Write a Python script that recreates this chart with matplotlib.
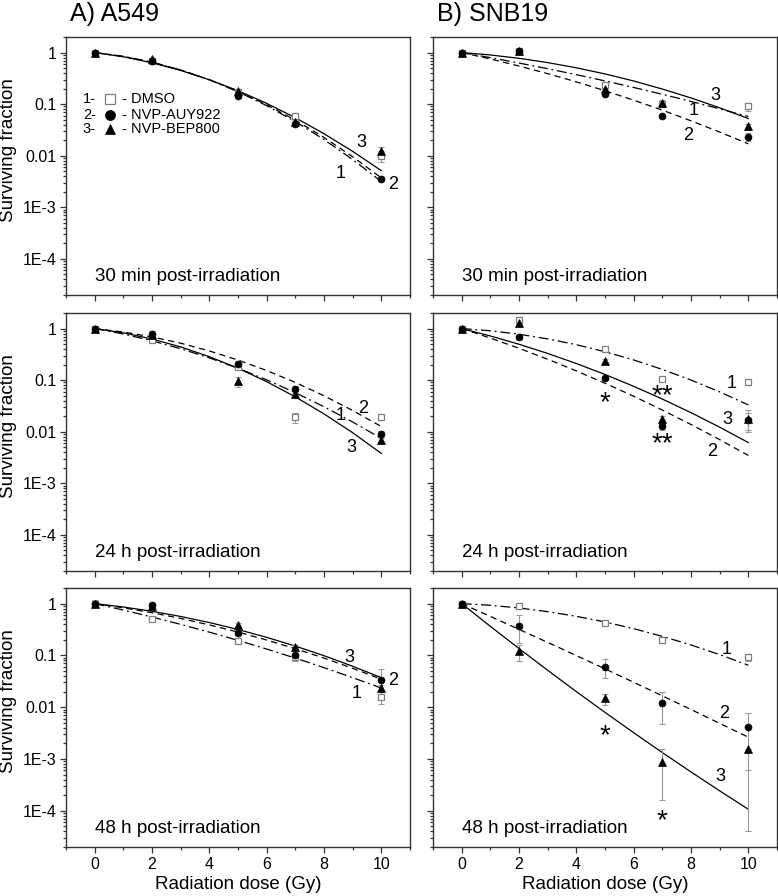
import matplotlib
matplotlib.use('Agg')
import matplotlib.pyplot as plt
from matplotlib.ticker import FixedLocator, FixedFormatter, LogLocator, NullFormatter, MultipleLocator

plt.rcParams['font.family'] = ['Liberation Sans', 'DejaVu Sans']

# ---------------- data ----------------
DOSES = [0, 2, 5, 7, 10]
FIT_DOSES = [0, 1, 2, 3, 4, 5, 6, 7, 8, 9, 10]
TREATMENTS = ['DMSO', 'NVP-AUY922', 'NVP-BEP800']
CURVE_IDS = ['1', '2', '3']

# A549, 30 min
A30_DMSO = [1.0, 0.70, 0.17, 0.058, 0.010]
A30_DMSO_ERR = [0.06, 0.05, 0.015, 0.008, 0.0025]
A30_AUY = [1.0, 0.70, 0.145, 0.042, 0.0036]
A30_AUY_ERR = [0.05, 0.04, 0.01, 0.004, 0.0004]
A30_BEP = [1.0, 0.75, 0.18, 0.045, 0.0125]
A30_BEP_ERR = [0.05, 0.05, 0.015, 0.004, 0.002]
A30_FIT_DMSO = [1, 0.844, 0.651, 0.459, 0.295, 0.174, 0.0934, 0.0459, 0.0206, 0.00844, 0.00316]
A30_FIT_AUY = [1, 0.840, 0.648, 0.459, 0.298, 0.178, 0.0974, 0.0489, 0.0226, 0.00956, 0.00372]
A30_FIT_BEP = [1, 0.826, 0.633, 0.450, 0.297, 0.182, 0.1035, 0.0546, 0.0267, 0.01216, 0.00513]

# SNB19, 30 min
B30_DMSO = [1.0, 1.05, 0.23, 0.10, 0.09]
B30_DMSO_ERR = [0.08, 0.10, 0.03, 0.01, 0.015]
B30_AUY = [1.0, 1.08, 0.157, 0.06, 0.023]
B30_AUY_ERR = [0.05, 0.06, 0.01, 0.005, 0.004]
B30_BEP = [1.0, 1.05, 0.20, 0.105, 0.037]
B30_BEP_ERR = [0.05, 0.06, 0.02, 0.015, 0.005]
B30_FIT_DMSO = [1, 0.796, 0.626, 0.486, 0.3725, 0.282, 0.2104, 0.1551, 0.1129, 0.0811, 0.0575]
B30_FIT_AUY = [1, 0.750, 0.548, 0.390, 0.270, 0.182, 0.1194, 0.0763, 0.0475, 0.0288, 0.0170]
B30_FIT_BEP = [1, 0.897, 0.773, 0.638, 0.506, 0.385, 0.281, 0.196, 0.132, 0.0849, 0.0525]

# A549, 24 h
A24_DMSO = [1.0, 0.61, 0.18, 0.019, 0.019]
A24_DMSO_ERR = [0.05, 0.04, 0.02, 0.004, 0.002]
A24_AUY = [1.0, 0.80, 0.21, 0.067, 0.0090]
A24_AUY_ERR = [0.05, 0.10, 0.02, 0.010, 0.0015]
A24_BEP = [1.0, 0.75, 0.095, 0.053, 0.0069]
A24_BEP_ERR = [0.05, 0.06, 0.02, 0.008, 0.001]
A24_FIT_DMSO = [1, 0.782, 0.579, 0.406, 0.270, 0.170, 0.1012, 0.0571, 0.0305, 0.01546, 0.00741]
A24_FIT_AUY = [1, 0.856, 0.688, 0.520, 0.368, 0.245, 0.1536, 0.0903, 0.0498, 0.0258, 0.01259]
A24_FIT_BEP = [1, 0.825, 0.627, 0.440, 0.285, 0.170, 0.0934, 0.0474, 0.0222, 0.00956, 0.0038]

# SNB19, 24 h
B24_DMSO = [1.0, 1.49, 0.41, 0.105, 0.091]
B24_DMSO_ERR = [0.10, 0.20, 0.03, 0.008, 0.012]
B24_AUY = [1.0, 0.70, 0.112, 0.0127, 0.017]
B24_AUY_ERR = [0.08, 0.06, 0.01, 0.002, 0.006]
B24_BEP = [1.0, 1.29, 0.24, 0.018, 0.018]
B24_BEP_ERR = [0.08, 0.10, 0.02, 0.002, 0.008]
B24_FIT_DMSO = [1, 0.905, 0.776, 0.630, 0.486, 0.355, 0.246, 0.1612, 0.1004, 0.0592, 0.0331]
B24_FIT_AUY = [1, 0.653, 0.414, 0.254, 0.1511, 0.0871, 0.0487, 0.0263, 0.01382, 0.00703, 0.00347]
B24_FIT_BEP = [1, 0.718, 0.496, 0.329, 0.210, 0.1288, 0.0759, 0.0430, 0.0234, 0.01226, 0.00617]

# A549, 48 h
A48_DMSO = [1.0, 0.51, 0.187, 0.093, 0.0156]
A48_DMSO_ERR = [0.15, 0.04, 0.015, 0.015, 0.004]
A48_AUY = [1.0, 0.93, 0.275, 0.104, 0.034]
A48_AUY_ERR = [0.08, 0.10, 0.03, 0.015, 0.02]
A48_BEP = [1.0, 0.88, 0.39, 0.145, 0.0236]
A48_BEP_ERR = [0.08, 0.08, 0.03, 0.015, 0.003]
A48_FIT_DMSO = [1, 0.750, 0.551, 0.397, 0.281, 0.195, 0.1327, 0.0886, 0.0580, 0.0372, 0.0234]
A48_FIT_AUY = [1, 0.829, 0.666, 0.517, 0.388, 0.282, 0.198, 0.1346, 0.0886, 0.0563, 0.0347]
A48_FIT_BEP = [1, 0.860, 0.710, 0.564, 0.431, 0.316, 0.223, 0.1512, 0.0986, 0.0617, 0.0372]

# SNB19, 48 h
B48_DMSO = [1.0, 0.89, 0.42, 0.195, 0.093]
B48_DMSO_ERR = [0.05, 0.10, 0.04, 0.02, 0.015]
B48_AUY = [1.0, 0.37, 0.059, 0.012, 0.0041]
B48_AUY_ERR_LO = [0.05, 0.20, 0.022, 0.0072, 0.0035]
B48_AUY_ERR_HI = [0.05, 0.22, 0.025, 0.0075, 0.0035]
B48_BEP = [1.0, 0.12, 0.0149, 0.00089, 0.00155]
B48_BEP_ERR_LO = [0.05, 0.043, 0.0041, 0.00073, 0.00151]
B48_BEP_ERR_HI = [0.05, 0.04, 0.0031, 0.00066, 0.0]
B48_FIT_DMSO = [1, 0.928, 0.823, 0.699, 0.568, 0.442, 0.328, 0.2336, 0.1590, 0.1036, 0.0646]
B48_FIT_AUY = [1, 0.566, 0.318, 0.1783, 0.0993, 0.0550, 0.0303, 0.01657, 0.00902, 0.00488, 0.00263]
B48_FIT_BEP = [1, 0.364, 0.1356, 0.0516, 0.0200, 0.00794, 0.00322, 0.00133, 0.000563, 0.000243, 0.000107]

PANEL_TEXT = ['30 min post-irradiation', '24 h post-irradiation', '48 h post-irradiation']

# curve number label positions (dose, value) for curves 1,2,3
A30_LBL = [(8.57, 0.0046), (10.41, 0.0028), (9.32, 0.0177)]
B30_LBL = [(8.08, 0.074), (7.89, 0.0245), (8.85, 0.145)]
A24_LBL = [(8.57, 0.0205), (9.38, 0.028), (8.94, 0.0049)]
B24_LBL = [(9.4, 0.087), (8.74, 0.0041), (9.27, 0.017)]
A48_LBL = [(9.13, 0.0187), (10.42, 0.033), (8.9, 0.090)]
B48_LBL = [(9.24, 0.129), (9.14, 0.0076), (9.02, 0.00046)]

# significance marks (dose, value, text)
B24_STARS = [(5, 0.048, '*'), (7, 0.067, '**'), (7, 0.0078, '**')]
B48_STARS = [(5, 0.0037, '*'), (7, 8.7e-5, '*')]

panels = [
    dict(data=[(A30_DMSO, A30_DMSO_ERR, A30_DMSO_ERR), (A30_AUY, A30_AUY_ERR, A30_AUY_ERR), (A30_BEP, A30_BEP_ERR, A30_BEP_ERR)],
         fits=[A30_FIT_DMSO, A30_FIT_AUY, A30_FIT_BEP], lbl=A30_LBL, stars=[]),
    dict(data=[(B30_DMSO, B30_DMSO_ERR, B30_DMSO_ERR), (B30_AUY, B30_AUY_ERR, B30_AUY_ERR), (B30_BEP, B30_BEP_ERR, B30_BEP_ERR)],
         fits=[B30_FIT_DMSO, B30_FIT_AUY, B30_FIT_BEP], lbl=B30_LBL, stars=[]),
    dict(data=[(A24_DMSO, A24_DMSO_ERR, A24_DMSO_ERR), (A24_AUY, A24_AUY_ERR, A24_AUY_ERR), (A24_BEP, A24_BEP_ERR, A24_BEP_ERR)],
         fits=[A24_FIT_DMSO, A24_FIT_AUY, A24_FIT_BEP], lbl=A24_LBL, stars=[]),
    dict(data=[(B24_DMSO, B24_DMSO_ERR, B24_DMSO_ERR), (B24_AUY, B24_AUY_ERR, B24_AUY_ERR), (B24_BEP, B24_BEP_ERR, B24_BEP_ERR)],
         fits=[B24_FIT_DMSO, B24_FIT_AUY, B24_FIT_BEP], lbl=B24_LBL, stars=B24_STARS),
    dict(data=[(A48_DMSO, A48_DMSO_ERR, A48_DMSO_ERR), (A48_AUY, A48_AUY_ERR, A48_AUY_ERR), (A48_BEP, A48_BEP_ERR, A48_BEP_ERR)],
         fits=[A48_FIT_DMSO, A48_FIT_AUY, A48_FIT_BEP], lbl=A48_LBL, stars=[]),
    dict(data=[(B48_DMSO, B48_DMSO_ERR, B48_DMSO_ERR), (B48_AUY, B48_AUY_ERR_LO, B48_AUY_ERR_HI), (B48_BEP, B48_BEP_ERR_LO, B48_BEP_ERR_HI)],
         fits=[B48_FIT_DMSO, B48_FIT_AUY, B48_FIT_BEP], lbl=B48_LBL, stars=B48_STARS),
]

# ---------------- styles ----------------
MARKERS = [dict(marker='s', ms=4.6, mfc='white', mec='#7f7f7f', mew=0.9),
           dict(marker='o', ms=5.0, mfc='black', mec='black', mew=0.5),
           dict(marker='^', ms=5.4, mfc='black', mec='black', mew=0.5)]
LINESTYLES = [(0, (8, 3, 1.5, 3)), (0, (5, 3.5)), '-']
SPINE = '#333333'

fig = plt.figure(figsize=(7.78, 8.96), dpi=100)
W, H = 778.0, 896.0
col_x = [66, 433]
col_w = 344
row_y = [(37, 295), (313, 571), (588, 847)]

axes = []
for i, p in enumerate(panels):
    r, c = divmod(i, 2)
    top, bot = row_y[r]
    ax = fig.add_axes([col_x[c] / W, 1 - bot / H, col_w / W, (bot - top) / H])
    axes.append(ax)
    ax.set_yscale('log')
    ax.set_xlim(-1, 11)
    ax.set_ylim(2e-5, 2)

    # fitted curves
    for k in range(3):
        ax.plot(FIT_DOSES, p['fits'][k], color='black', lw=0.9, ls=LINESTYLES[k], zorder=2)
    # data points
    for k in range(3):
        y, lo, hi = p['data'][k]
        ax.errorbar(DOSES, y, yerr=[lo, hi], fmt='none', ecolor='#9a9a9a', elinewidth=0.8,
                    capsize=2.2, capthick=0.8, zorder=3)
        ax.plot(DOSES, y, ls='none', zorder=4, **MARKERS[k])
    # curve labels
    for k in range(3):
        xl, yl = p['lbl'][k]
        ax.text(xl, yl, CURVE_IDS[k], fontsize=13, ha='center', va='center', zorder=5)
    for xs, ys, s in p['stars']:
        ax.annotate(s, xy=(xs, ys), xytext=(0, -10), textcoords='offset points',
                    ha='center', va='baseline', fontsize=20, zorder=5)

    ax.text(0.084, 0.072, PANEL_TEXT[r], transform=ax.transAxes, fontsize=13.5,
            ha='left', va='center')

    # ticks
    ax.xaxis.set_major_locator(MultipleLocator(2))
    ax.xaxis.set_minor_locator(MultipleLocator(1))
    ax.yaxis.set_major_locator(FixedLocator([1e-4, 1e-3, 1e-2, 1e-1, 1]))
    ax.yaxis.set_minor_locator(LogLocator(base=10, subs=[2, 3, 4, 5, 6, 7, 8, 9], numticks=20))
    ax.yaxis.set_minor_formatter(NullFormatter())
    if c == 0:
        ax.yaxis.set_major_formatter(FixedFormatter(['1E-4', '1E-3', '0.01', '0.1', '1']))
    else:
        ax.yaxis.set_major_formatter(NullFormatter())
    if r < 2:
        ax.xaxis.set_major_formatter(NullFormatter())
    ax.tick_params(which='both', direction='out', top=False, right=False, colors=SPINE,
                   labelcolor='black', labelsize=11.5, width=0.9)
    ax.tick_params(which='major', length=4.5, pad=2.5)
    ax.tick_params(which='minor', length=2.5)
    for s in ax.spines.values():
        s.set_color(SPINE)
        s.set_linewidth(1.0)

# legend (drawn in the first panel)
ax0 = axes[0]
leg_y = [0.758, 0.698, 0.642]
for k in range(3):
    ax0.text(0.049, leg_y[k], f'{CURVE_IDS[k]}-', transform=ax0.transAxes, fontsize=10.5,
             ha='left', va='center')
    mk = dict(MARKERS[k])
    mk['ms'] = mk['ms'] * 1.45
    ax0.plot([0.128], [leg_y[k]], transform=ax0.transAxes, ls='none', clip_on=False, **mk)
    ax0.text(0.162, leg_y[k], f'- {TREATMENTS[k]}', transform=ax0.transAxes, fontsize=10.5,
             ha='left', va='center')

# titles
fig.text(70 / W, 1 - 14 / H, 'A) A549', fontsize=18, ha='left', va='center')
fig.text(437 / W, 1 - 14 / H, 'B) SNB19', fontsize=18, ha='left', va='center')

# axis labels
for r in range(3):
    top, bot = row_y[r]
    fig.text(9 / W, 1 - ((top + bot) / 2 - 16) / H, 'Surviving fraction', rotation=90,
             fontsize=13.5, ha='center', va='center')
for c in range(2):
    fig.text((col_x[c] + col_w / 2) / W, 1 - 884 / H, 'Radiation dose (Gy)', fontsize=13.5,
             ha='center', va='center')

fig.savefig('out.png', dpi=100)
